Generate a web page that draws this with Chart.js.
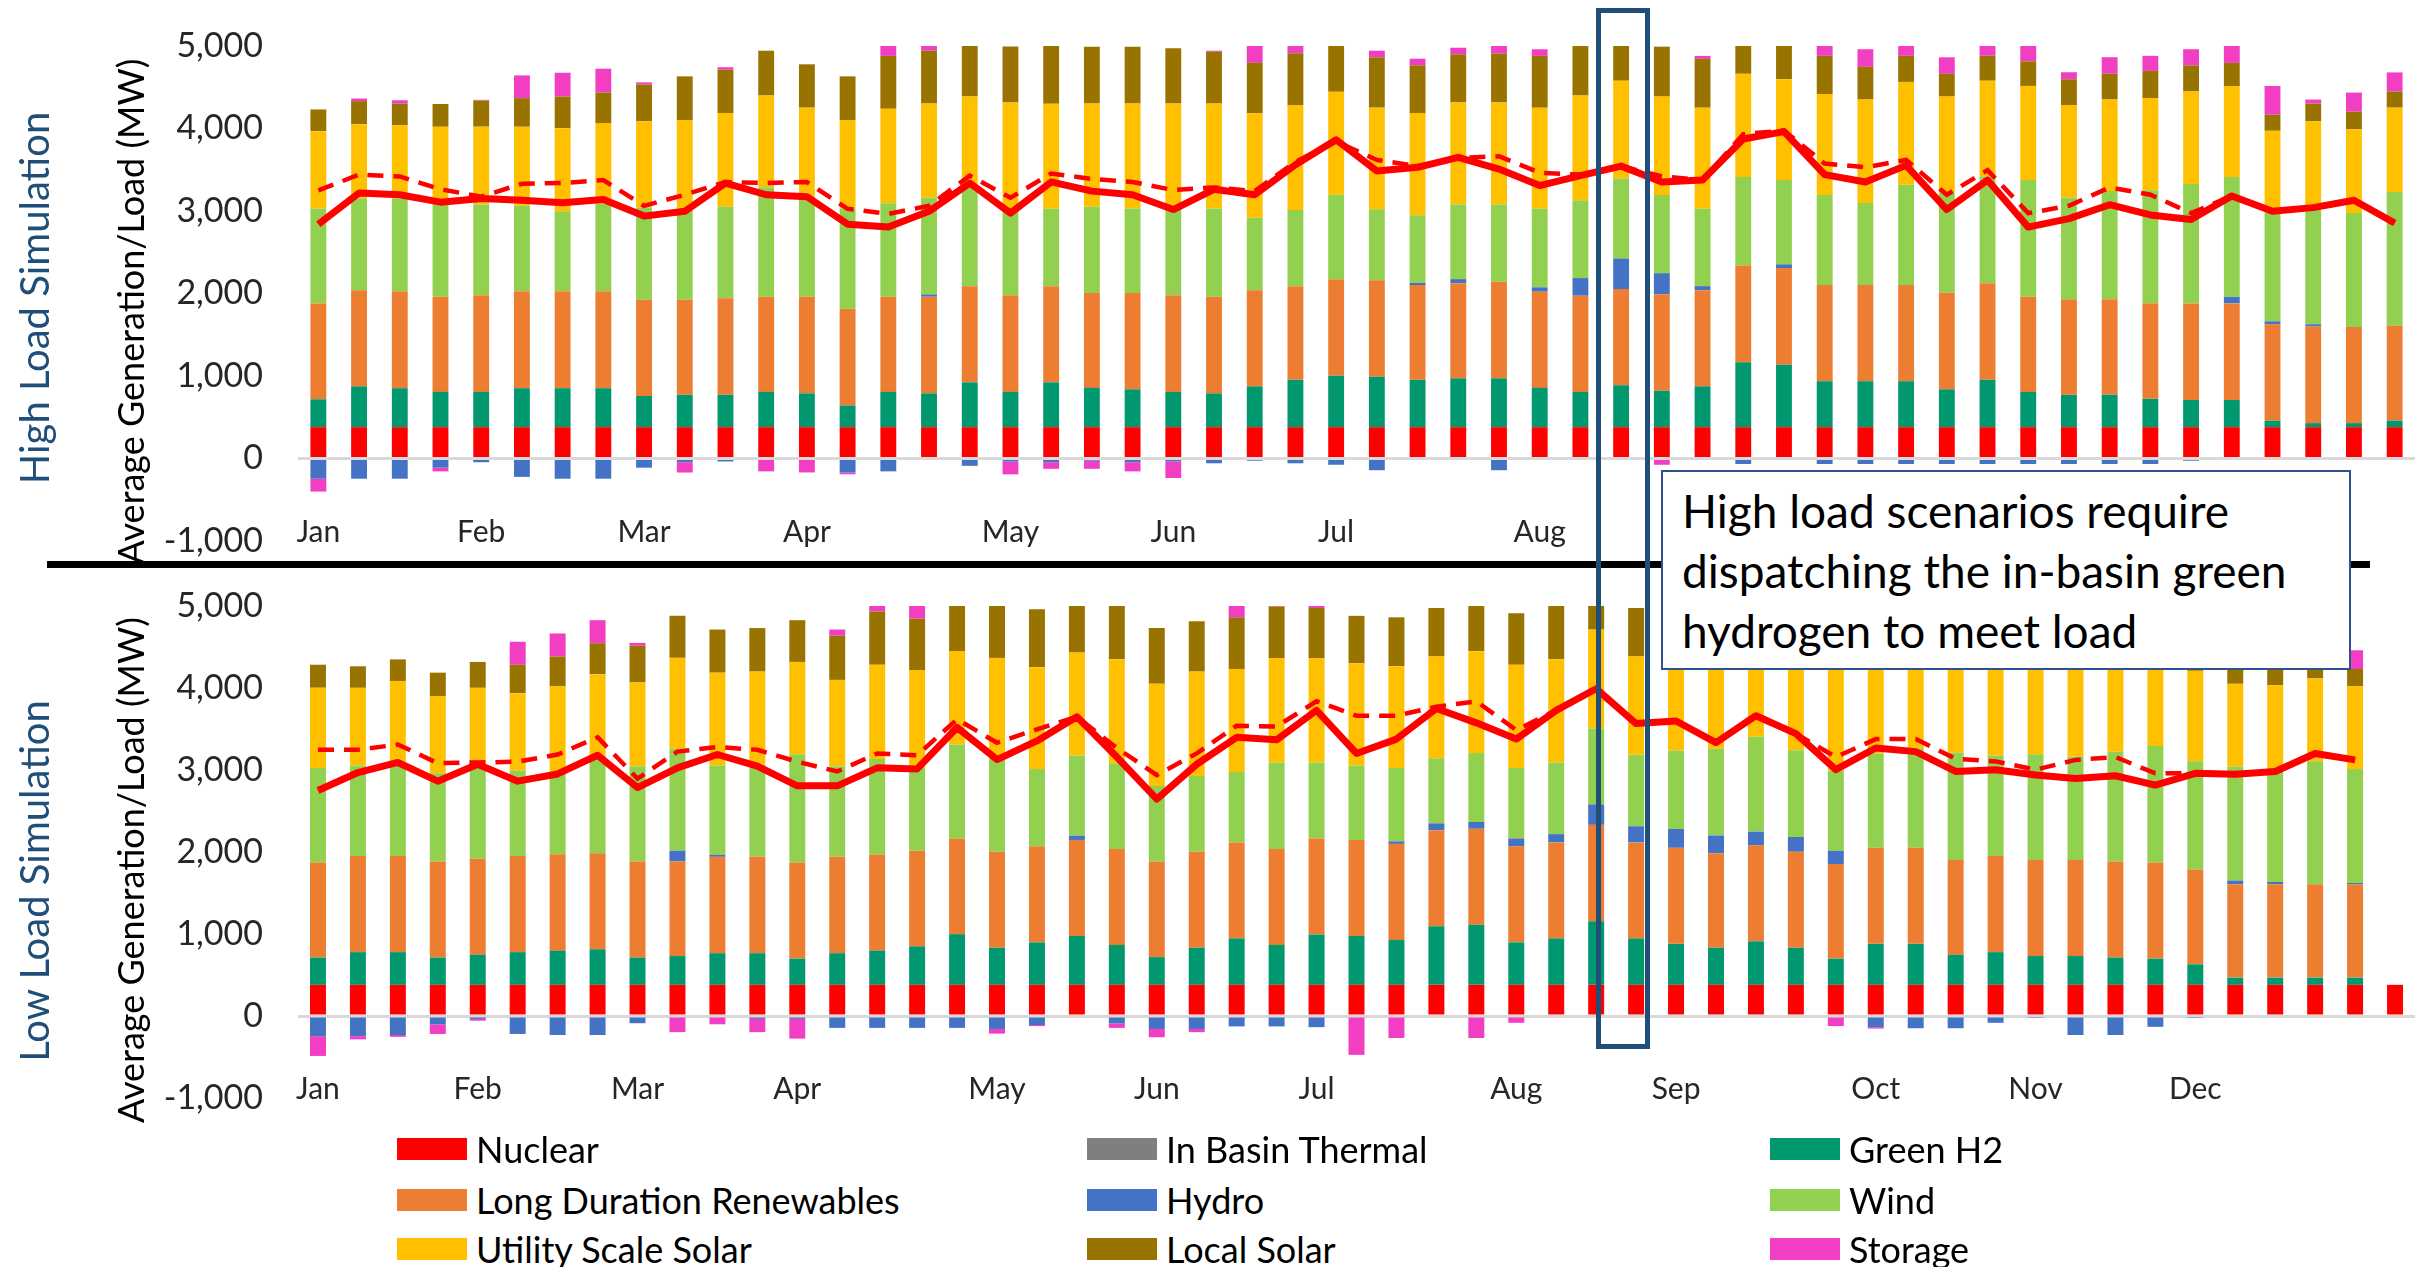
<!DOCTYPE html>
<html>
<head>
<meta charset="utf-8">
<script src="https://cdn.jsdelivr.net/npm/chart.js@4.4.1/dist/chart.umd.min.js"></script>
<style>
  body { margin: 0; background: #fff; }
  #wrap { position: relative; width: 2424px; height: 1267px; overflow: hidden; font-family: Lato, sans-serif; }
  canvas { position: absolute; left: 0; }
  .side { position: absolute; width: 520px; height: 50px; line-height: 50px; text-align: center;
          font-size: 40px; color: #1F4E79; transform: rotate(-90deg); white-space: nowrap; }
  #divider { position: absolute; left: 47px; top: 561px; width: 2323px; height: 7px; background: #000; }
  #focus { position: absolute; left: 1596px; top: 8px; width: 54px; height: 1041px; box-sizing: border-box;
           border: 5px solid #1F4E79; }
  #note { position: absolute; left: 1661px; top: 470px; width: 690px; height: 200px; box-sizing: border-box;
          border: 2px solid #2F528F; background: #fff; padding: 9px 0 0 19px; font-size: 46px; line-height: 60px; color: #000; }
  .leg { position: absolute; display: flex; align-items: center; font-size: 36px; color: #000; white-space: nowrap; }
  .leg span.sw { display: inline-block; width: 70px; height: 22px; margin-right: 9px; }
</style>
</head>
<body>
<div id="wrap">
  <canvas id="topChart" width="2424" height="585" style="top:0"></canvas>
  <canvas id="bottomChart" width="2424" height="582" style="top:560px"></canvas>
  <div class="side" style="left:-226px; top:273px">High Load Simulation</div>
  <div class="side" style="left:-226px; top:856px">Low Load Simulation</div>
  <div id="divider"></div>
  <div id="focus"></div>
  <div id="note">High load scenarios require<br>dispatching the in-basin green<br>hydrogen to meet load</div>
  <div id="legend"></div>
</div>
<script>
// weekly averages, high load case (52 weeks)
const topNuclear = [380,380,380,380,380,380,380,380,380,380, 380,380,380,380,380,380,380,380,380,380,
  380,380,380,380,380,380,380,380,380,380, 380,380,380,380,380,380,380,380,380,380,
  380,380,380,380,380,380,380,380,380,380, 380,380];
const topGreenH2 = [338,494,472,427,427,472,472,472,378,392, 392,427,410,263,427,410,543,427,543,476,
  459,427,410,494,574,623,610,574,592,592, 476,427,508,441,494,788,757,557,557,557,
  459,574,427,392,392,343,329,329,80,49, 49,80];
const topLDR = [1162,1166,1175,1153,1171,1175,1175,1175,1166,1153, 1171,1153,1171,1171,1153,1171,1166,1171,1166,1149,
  1166,1171,1171,1166,1135,1171,1171,1149,1153,1171, 1166,1166,1166,1171,1166,1171,1171,1166,1166,1166,
  1171,1171,1153,1158,1158,1158,1171,1171,1166,1171, 1166,1153];
const topHydro = [-245,-245,-245,-111,-45,-223,-245,-245,-111,-45, -36,0,0,-169,-156,27,-89,-36,-45,-27,
  -45,-36,-58,-27,-58,-76,-142,27,49,-142, 53,214,370,254,49,-67,45,-67,-67,-67,
  -67,-67,-67,-67,-67,-67,-27,80,36,27, 0,-18];
const topWind = [1149,1113,1126,1126,1100,1037,971,1060,1117,1104, 1109,1327,1215,1215,1135,1175,1198,1051,939,1046,
  1024,1042,1068,877,922,1024,859,819,904,935, 953,944,971,948,939,1073,1024,1091,993,1215,
  1211,1296,1416,1233,1313,1371,1447,1451,1313,1393, 1380,1616];
const topUtilitySolar = [939,899,886,935,944,957,1006,979,1046,1073, 1135,1113,1077,1073,1144,1140,1100,1287,1273,1251,
  1273,1282,1273,1269,1273,1247,1233,1238,1238,1238, 1224,1269,1184,1193,1224,1251,1220,1224,1255,1247,
  1166,1158,1140,1122,1109,1117,1122,1104,997,1068, 1015,1024];
const topLocalSolar = [263,280,263,276,316,347,383,370,445,530, 525,543,525,530,641,641,623,677,708,690,
  690,672,628,610,628,579,610,579,583,592, 628,628,450,605,592,365,432,463,396,316,
  276,303,298,312,312,329,316,280,196,214, 214,196];
const topStorage = [-156,31,40,-45,9,276,289,289,27,-125, 31,-156,-169,-22,129,80,13,-156,-80,-98,
  -111,-200,13,214,111,0,80,80,80,116, 80,0,0,-76,36,0,0,147,214,129,
  200,147,196,85,200,183,196,214,347,49, 231,231];
const topLoad = [2840,3219,3197,3107,3152,3130,3099,3139,2938,2996, 3339,3197,3174,2840,2805,2996,3339,2974,3352,3241,
  3197,3018,3263,3197,3560,3864,3486,3530,3651,3508, 3308,3428,3544,3352,3375,3873,3962,3441,3352,3553,
  3018,3375,2805,2907,3076,2952,2898,3183,2996,3041, 3130,2854];
const topLoadDashed = [3250,3441,3419,3263,3174,3330,3339,3375,3063,3197, 3352,3339,3352,3027,2965,3063,3428,3161,3455,3388,
  3352,3254,3286,3241,3597,3842,3619,3544,3642,3664, 3464,3441,3544,3419,3375,3931,3976,3575,3530,3619,
  3197,3495,2974,3063,3286,3197,2974,3183,2996,3041, 3130,2854];

// weekly averages, low load case (53 periods, last is a single day)
const botNuclear = [380,380,380,380,380,380,380,380,380,380, 380,380,380,380,380,380,380,380,380,380,
  380,380,380,380,380,380,380,380,380,380, 380,380,380,380,380,380,380,380,380,380,
  380,380,380,380,380,380,380,380,380,380, 380,380,380];
const botGreenH2 = [333,399,399,333,368,399,417,434,333,351, 386,386,320,386,417,469,618,452,518,596,
  487,338,452,566,487,614,596,548,715,732, 518,566,776,566,500,452,531,452,320,500,
  500,368,399,351,351,333,320,250,88,88, 88,88,0];
const botLDR = [1158,1171,1171,1171,1171,1171,1175,1171,1171,1154, 1175,1175,1171,1175,1171,1167,1167,1171,1171,1171,
  1171,1167,1171,1171,1171,1171,1171,1171,1171,1171, 1171,1171,1175,1171,1171,1154,1171,1171,1154,1171,
  1171,1154,1171,1171,1171,1171,1171,1158,1140,1140, 1140,1136,0];
const botHydro = [-246,-246,-232,-101,-35,-219,-232,-232,-88,132, 26,-35,-35,-145,-145,-145,-145,-158,-110,53,
  -92,-158,-158,-127,-127,-136,0,31,83,83, 96,101,250,197,232,215,167,180,162,-136,
  -149,-149,-83,-13,-232,-232,-132,-13,44,26, 0,18,0];
const botWind = [1154,1105,1118,1075,1127,1044,987,1193,1162,1241, 1088,1127,1320,1105,1167,1009,1145,1132,943,978,
  1044,921,925,860,1053,925,908,895,794,842, 860,873,925,873,956,1057,1158,1057,978,1149,
  1215,1307,1228,1289,1263,1338,1421,1320,1390,1390, 1500,1390,0];
const botUtilitySolar = [978,947,1018,943,956,943,1061,991,1022,1110, 1132,1132,1127,1053,1149,1193,1140,1232,1241,1254,
  1268,1246,1272,1254,1276,1276,1246,1241,1241,1241, 1259,1259,1206,1197,1206,1232,1202,1206,1325,1228,
  1149,1140,1123,1105,1140,1101,1105,1101,1009,1009, 1009,1009,0];
const botLocalSolar = [281,263,263,285,316,346,364,377,447,513, 526,531,509,539,649,627,579,662,706,596,
  680,680,614,632,627,610,579,596,592,579, 627,654,316,592,500,360,425,456,390,311,
  272,298,294,307,307,325,311,276,202,219, 211,211,0];
const botStorage = [-241,-39,-22,-118,-22,281,281,281,35,-197, -101,-162,-241,75,96,184,0,-57,-13,0,
  -53,-101,-39,167,35,53,-474,-268,0,-268, -83,26,0,0,35,0,0,145,-123,-18,
  197,145,193,83,197,180,193,211,342,48, 228,228,0];
const botLoad = [2750,2969,3092,2864,3070,2864,2952,3180,2785,3026, 3189,3048,2807,2807,3026,3013,3518,3127,3355,3649,
  3158,2645,3070,3399,3368,3728,3202,3377,3750,3575, 3377,3728,3991,3566,3597,3333,3662,3443,3004,3268,
  3224,2982,3004,2939,2895,2930,2816,2960,2947,2982, 3202,3123];
const botLoadDashed = [3246,3246,3311,3083,3092,3101,3189,3399,2895,3224, 3281,3246,3101,2982,3202,3180,3618,3333,3496,3649,
  3268,2939,3202,3539,3531,3838,3662,3662,3772,3838, 3487,3728,3991,3566,3597,3333,3662,3443,3158,3377,
  3377,3136,3105,3004,3123,3158,2960,2960,2947,2982, 3202,3123];

// axis labels
const monthNames = ['Jan','Feb','Mar','Apr','May','Jun','Jul','Aug','Sep','Oct','Nov','Dec'];
const monthFirstWeek = [1,5,9,13,18,22,26,31,35,40,44,48];
const yTicks = [-1000,0,1000,2000,3000,4000,5000];

const colors = {
  nuclear: '#FF0000', thermal: '#7F7F7F', greenH2: '#01976F',
  ldr: '#ED7D31', hydro: '#4472C4', wind: '#92D050',
  uss: '#FFC000', local: '#997300', storage: '#F23EC2'
};

Chart.defaults.font.family = 'Lato';

// month names sit just above the bottom of the plot, like the Excel "low" labels
const monthTicks = {
  id: 'monthTicks',
  afterDraw(chart) {
    const { ctx, chartArea, scales } = chart;
    ctx.save();
    ctx.font = '30px Lato';
    ctx.fillStyle = '#262626';
    ctx.textAlign = 'center';
    ctx.textBaseline = 'middle';
    monthFirstWeek.forEach((w, m) => {
      ctx.fillText(monthNames[m], scales.x.getPixelForValue(w - 1), chartArea.bottom - 9);
    });
    ctx.restore();
  }
};

function buildChart(id, s, barPct) {
  const weeks = s.nuclear.map((_, i) => i + 1);
  const bar = (label, data, color) => ({
    type: 'bar', label, data, backgroundColor: color, borderWidth: 0,
    barPercentage: barPct, categoryPercentage: 1, order: 1
  });
  return new Chart(document.getElementById(id), {
    data: {
      labels: weeks,
      datasets: [
        { type: 'line', label: 'Load', data: s.load, borderColor: '#FF0000', borderWidth: 7,
          pointRadius: 0, tension: 0, stack: 'load', order: 0, borderJoinStyle: 'round' },
        { type: 'line', label: 'Load 2', data: s.dashed, borderColor: '#FF0000', borderWidth: 4.5,
          borderDash: [16, 10], pointRadius: 0, tension: 0, stack: 'load2', order: 0 },
        bar('Nuclear', s.nuclear, colors.nuclear),
        bar('Green H2', s.greenH2, colors.greenH2),
        bar('Long Duration Renewables', s.ldr, colors.ldr),
        bar('Hydro', s.hydro, colors.hydro),
        bar('Wind', s.wind, colors.wind),
        bar('Utility Scale Solar', s.uss, colors.uss),
        bar('Local Solar', s.local, colors.local),
        bar('Storage', s.storage, colors.storage)
      ]
    },
    plugins: [monthTicks],
    options: {
      responsive: false,
      animation: false,
      layout: { padding: { top: 46, right: 9, bottom: 44, left: 0 } },
      plugins: { legend: { display: false }, tooltip: { enabled: false } },
      scales: {
        x: { stacked: true, display: false },
        y: {
          stacked: true, min: yTicks[0], max: yTicks[yTicks.length - 1],
          afterFit: sc => { sc.width = 298; },
          afterBuildTicks: sc => { sc.ticks = yTicks.map(v => ({ value: v })); },
          ticks: { padding: 35, color: '#262626', font: { size: 34, lineHeight: 0.5 },
                   callback: v => v.toLocaleString('en-US') },
          grid: { drawTicks: false, lineWidth: 3,
                  color: c => (c.tick && c.tick.value === 0) ? '#D9D9D9' : 'rgba(0,0,0,0)' },
          border: { display: false },
          title: { display: true, text: 'Average Generation/Load (MW)\u2002\u2002', color: '#000',
                   font: { size: 36 }, padding: { top: 111, bottom: 0 } }
        }
      }
    }
  });
}

buildChart('topChart', {
  nuclear: topNuclear, greenH2: topGreenH2, ldr: topLDR, hydro: topHydro, wind: topWind,
  uss: topUtilitySolar, local: topLocalSolar, storage: topStorage, load: topLoad, dashed: topLoadDashed
}, 0.39);

buildChart('bottomChart', {
  nuclear: botNuclear, greenH2: botGreenH2, ldr: botLDR, hydro: botHydro, wind: botWind,
  uss: botUtilitySolar, local: botLocalSolar, storage: botStorage, load: botLoad, dashed: botLoadDashed
}, 0.40);

// legend, three columns
const legendCols = [
  [['Nuclear', colors.nuclear], ['Long Duration Renewables', colors.ldr], ['Utility Scale Solar', colors.uss]],
  [['In Basin Thermal', colors.thermal], ['Hydro', colors.hydro], ['Local Solar', colors.local]],
  [['Green H2', colors.greenH2], ['Wind', colors.wind], ['Storage', colors.storage]]
];
const colLeft = [397, 1087, 1770];
const rowMid = [1149, 1200, 1249];
const legend = document.getElementById('legend');
legendCols.forEach((col, c) => col.forEach(([name, color], r) => {
  const el = document.createElement('div');
  el.className = 'leg';
  el.style.left = colLeft[c] + 'px';
  el.style.top = (rowMid[r] - 21) + 'px';
  el.style.height = '42px';
  el.innerHTML = '<span class="sw" style="background:' + color + '"></span>' + name;
  legend.appendChild(el);
}));
</script>
</body>
</html>
